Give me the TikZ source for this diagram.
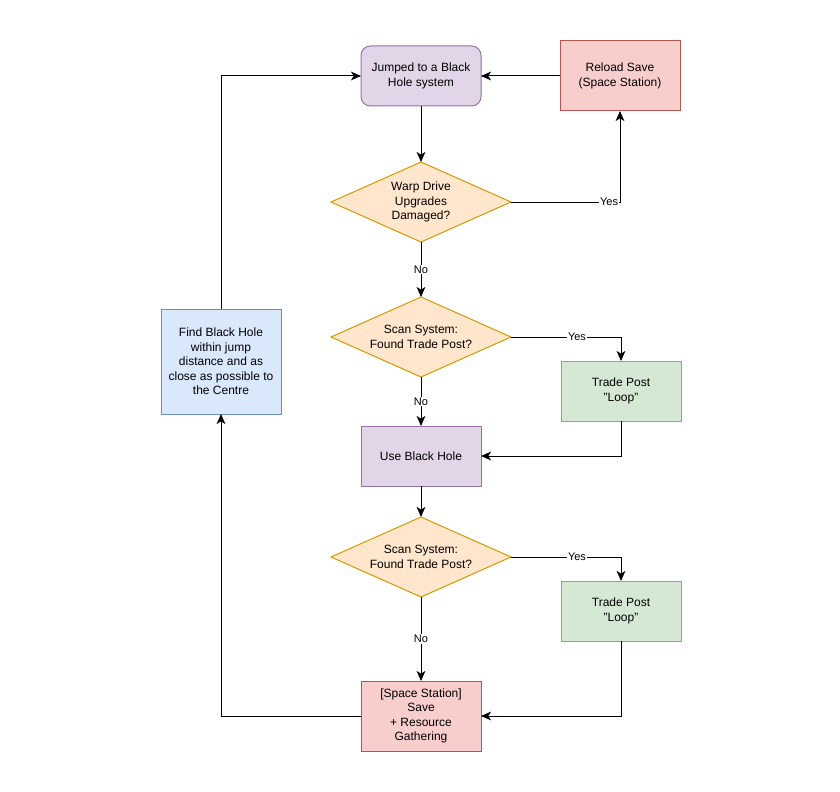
\documentclass[tikz,border=0pt]{standalone}
\usepackage{fontspec}
\setmainfont[Ligatures=Common]{Liberation Sans}
\usetikzlibrary{arrows.meta,shapes.geometric}
\definecolor{purplefill}{HTML}{E1D5E7}
\definecolor{purpleline}{HTML}{9673A6}
\definecolor{redfill}{HTML}{F8CECC}
\definecolor{redline}{HTML}{B85450}
\definecolor{orangefill}{HTML}{FFE6CC}
\definecolor{orangeline}{HTML}{D79B00}
\definecolor{greenfill}{HTML}{D5E8D4}
\definecolor{greenline}{HTML}{82B366}
\definecolor{bluefill}{HTML}{DAE8FC}
\definecolor{blueline}{HTML}{6C8EBF}
\def\loopq{\char34 Loop\char34}

\begin{document}
\begin{tikzpicture}[x=0.75pt,y=-0.75pt,
    box/.style={draw, line width=0.75pt, inner sep=0pt, outer sep=0pt, align=center,
        minimum width=90pt, minimum height=45pt, font=\fontsize{9}{10.8}\selectfont},
    decision/.style={diamond, aspect=2.25, draw=orangeline, fill=orangefill, line width=0.75pt,
        inner sep=0pt, outer sep=0pt, align=center, minimum width=135pt, minimum height=60pt,
        font=\fontsize{9}{10.8}\selectfont},
    flow/.style={line width=0.75pt, -{Stealth[length=7.5pt,width=6.5pt,inset=2pt]}},
    lbl/.style={fill=white, inner sep=0.5pt, font=\fontsize{8.25}{9}\selectfont}]
        \useasboundingbox (0,0) rectangle (840,792);
        \fill[white] (0,0) rectangle (840,792);
        % boxes and decisions
        \node[box, draw=purpleline, fill=purplefill, rounded corners=7pt] (jumped) at (421,76) {Jumped to a Black\\Hole system};
        \node[box, draw=redline, fill=redfill, minimum height=52.5pt] (reload) at (620,76) {Reload Save\\(Space Station)};
        \node[decision] (warp) at (421,202) {Warp Drive\\Upgrades\\Damaged?};
        \node[decision] (scana) at (421,337) {Scan System:\\Found Trade Post?};
        \node[box, draw=greenline, fill=greenfill] (tradea) at (621,391) {Trade Post\\\loopq};
        \node[box, draw=purpleline, fill=purplefill] (use) at (421,456) {Use Black Hole};
        \node[decision] (scanb) at (421,557) {Scan System:\\Found Trade Post?};
        \node[box, draw=greenline, fill=greenfill] (tradeb) at (621,611) {Trade Post\\\loopq};
        \node[box, draw=redline, fill=redfill, minimum height=52.5pt] (save) at (421,716) {[Space Station]\\Save\\+ Resource\\Gathering};
        \node[box, draw=blueline, fill=bluefill, minimum height=78.75pt] (find) at (221,361.5) {Find Black Hole\\within jump\\distance and as\\close as possible to\\the Centre};
        % connectors
        \draw[flow] (jumped) -- (warp);
        \draw[flow] (warp.east) -| node[lbl, pos=0.45] {Yes} (reload.south);
        \draw[flow] (reload) -- (jumped);
        \draw[flow] (warp) -- node[lbl] {No} (scana);
        \draw[flow] (scana.east) -| node[lbl, pos=0.3] {Yes} (tradea.north);
        \draw[flow] (tradea.south) |- (use.east);
        \draw[flow] (scana) -- node[lbl] {No} (use);
        \draw[flow] (use) -- (scanb);
        \draw[flow] (scanb.east) -| node[lbl, pos=0.3] {Yes} (tradeb.north);
        \draw[flow] (tradeb.south) |- (save.east);
        \draw[flow] (scanb) -- node[lbl] {No} (save);
        \draw[flow] (save.west) -| (find.south);
        \draw[flow] (find.north) |- (jumped.west);
\end{tikzpicture}
\end{document}
